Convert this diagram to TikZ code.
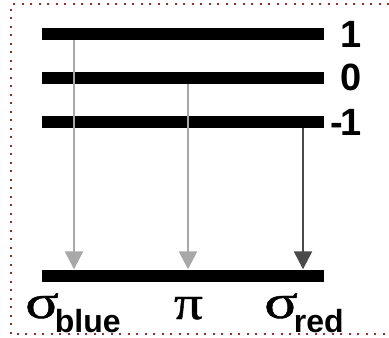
\documentclass[tikz,border=0pt]{standalone}
\usepackage{fontspec}
\setmainfont{Liberation Serif}
\setsansfont{Liberation Sans}
\newfontfamily\grkfont[FakeBold=0.8]{Liberation Serif}
\usepackage{tikz}
\usetikzlibrary{arrows.meta,positioning,calc}
\definecolor{frame}{HTML}{A82828}
\definecolor{pale}{HTML}{A8A8A8}
\definecolor{deep}{HTML}{4A4A4A}

\tikzset{
  level/.style={fill=black, inner sep=0pt, minimum width=282pt, minimum height=12pt},
  trans/.style={line width=2.5pt, -{Triangle[length=18pt,width=18pt]}},
  digit/.style={inner sep=0pt, font=\sffamily\bfseries\fontsize{38}{42}\selectfont},
  greek/.style={inner sep=0pt, font=\grkfont\fontsize{48}{52}\selectfont}
}
\newcommand{\subtxt}[1]{\raisebox{-14pt}{\sffamily\bfseries\fontsize{32}{36}\selectfont #1}}

\begin{document}
\begin{tikzpicture}[x=1pt, y=-1pt]
  \useasboundingbox (0,0) rectangle (389,338);
  % dotted frame, open on the right
  \draw[frame, line width=2.5pt, dash pattern=on 2pt off 6.5pt]
    (389,4) -- (11,4) -- (11,334) -- (389,334);

  % levels
  \node[level] (lvlp) at (183,34) {};
  \node[level] (lvlz) at (183,77.5) {};
  \node[level] (lvlm) at (183,122) {};
  \node[level] (ground) at (183,275.5) {};

  \node[digit, anchor=east] (labp) at ($(lvlp.east)+(38,0)$) {1};
  \node[digit, anchor=east] (labz) at ($(lvlz.east)+(38,0)$) {0};
  \node[digit, anchor=east] (labm) at ($(lvlm.east)+(38,0)$) {-\kern-2pt1};

  % columns of the transitions
  \coordinate (cb) at (74,0);
  \coordinate (cp) at (188,0);
  \coordinate (cr) at (303,0);

  \draw[trans, pale] (lvlp.south -| cb) -- (ground.north -| cb);
  \draw[trans, pale] (lvlz.south -| cp) -- (ground.north -| cp);
  \draw[trans, deep] (lvlm.south -| cr) -- (ground.north -| cr);

  \node[greek, anchor=base west] (sblue) at (25,318) {\scalebox{1.3}[1]{σ}\kern-4pt\subtxt{blue}};
  \node[greek, anchor=base] (spi) at (188.5,319) {\scalebox{1.2}[1]{π}};
  \node[greek, anchor=base west] (sred) at (264,318) {\scalebox{1.3}[1]{σ}\kern-4pt\subtxt{red}};
\end{tikzpicture}
\end{document}
